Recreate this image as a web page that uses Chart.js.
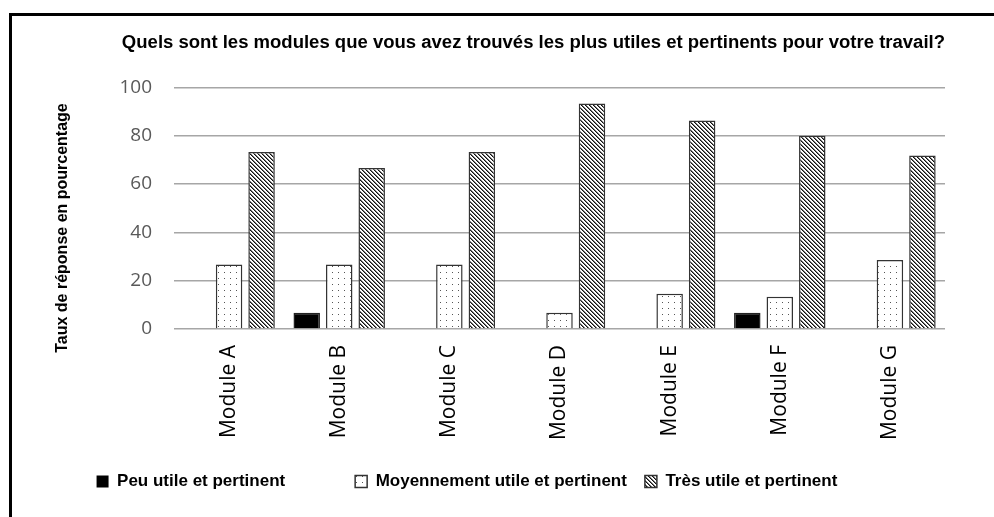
<!DOCTYPE html>
<html>
<head>
<meta charset="utf-8">
<script src="https://cdn.jsdelivr.net/npm/chart.js@4.4.1/dist/chart.umd.min.js"></script>
<style>
  html, body { margin: 0; padding: 0; background: #fff; }
  #wrap { position: relative; width: 994px; height: 517px; overflow: hidden; }
  #frame { position: absolute; left: 9px; top: 13px; width: 1000px; height: 600px;
           border-left: 3px solid #000; border-top: 3px solid #000; box-sizing: border-box; pointer-events: none; }
  canvas { position: absolute; left: 0; top: 0; }
</style>
</head>
<body>
<div id="wrap">
  <canvas id="c" width="994" height="517"></canvas>
  <div id="frame"></div>
</div>
<script>
const titleText = "Quels sont les modules que vous avez trouvés les plus utiles et pertinents pour votre travail?";
const yAxisTitle = "Taux de réponse en pourcentage";
const categories = ["Module A", "Module B", "Module C", "Module D", "Module E", "Module F", "Module G"];
const seriesNames = ["Peu utile et pertinent", "Moyennement utile et pertinent", "Très utile et pertinent"];
const peuUtile = [0, 6.7, 0, 0, 0, 6.7, 0];
const moyennementUtile = [26.7, 26.7, 26.7, 6.7, 14.6, 13.3, 28.6];
const tresUtile = [73.3, 66.7, 73.3, 93.3, 86.3, 80, 71.8];
const yTicks = [0, 20, 40, 60, 80, 100];

function dotPattern() {
  const t = document.createElement('canvas');
  t.width = 6; t.height = 6;
  const g = t.getContext('2d');
  g.fillStyle = '#fff'; g.fillRect(0, 0, 6, 6);
  g.fillStyle = '#555';
  g.fillRect(2, 2, 1, 1);
  return g.createPattern(t, 'repeat');
}
function hatchPattern() {
  const n = 4;
  const t = document.createElement('canvas');
  t.width = n; t.height = n;
  const g = t.getContext('2d');
  g.fillStyle = '#fff'; g.fillRect(0, 0, n, n);
  g.fillStyle = '#111';
  for (let i = 0; i < n; i++) g.fillRect(i, i, 1, 1);
  g.fillStyle = '#777';
  for (let i = 0; i < n; i++) g.fillRect((i + 1) % n, i, 1, 1);
  return g.createPattern(t, 'repeat');
}

const NB = "\u00a0";
const ctx = document.getElementById('c').getContext('2d');
const bw = c => (c.raw === 0 ? 0 : 1.5);
const legendLabels = [seriesNames[0] + NB.repeat(11), seriesNames[1], seriesNames[2] + NB.repeat(14)];

const yTitlePlugin = {
  id: 'yTitle',
  afterDraw(chart) {
    const g = chart.ctx;
    g.save();
    g.translate(63, 228);
    g.rotate(-Math.PI / 2);
    g.font = 'bold 16px "Liberation Sans", Arial';
    g.fillStyle = '#000';
    g.textAlign = 'center';
    g.textBaseline = 'middle';
    g.fillText(yAxisTitle, 0, 0);
    g.restore();
  }
};

new Chart(ctx, {
  type: 'bar',
  data: {
    labels: categories,
    datasets: [
      { label: legendLabels[0], data: peuUtile, backgroundColor: '#000', borderColor: '#222', borderWidth: bw },
      { label: legendLabels[1], data: moyennementUtile, backgroundColor: dotPattern(), borderColor: '#333', borderWidth: bw },
      { label: legendLabels[2], data: tresUtile, backgroundColor: hatchPattern(), borderColor: '#333', borderWidth: bw }
    ]
  },
  plugins: [yTitlePlugin],
  options: {
    responsive: false,
    animation: false,
    devicePixelRatio: 1,
    layout: { padding: { left: 55, right: 49, top: 0, bottom: 17 } },
    datasets: { bar: { categoryPercentage: 0.885, barPercentage: 0.815, borderSkipped: 'start' } },
    plugins: {
      title: {
        display: true, text: NB.repeat(13) + titleText, color: '#000',
        font: { family: 'Liberation Sans, Arial', size: 18.7, weight: 'bold' },
        padding: { top: 32, bottom: 33 }
      },
      legend: {
        position: 'bottom',
        labels: {
          color: '#000',
          font: { family: 'Liberation Sans, Arial', size: 17, weight: 'bold' },
          boxWidth: 12, boxHeight: 12, padding: 18
        }
      },
      tooltip: { enabled: false }
    },
    scales: {
      x: {
        grid: { display: false },
        border: { display: false },
        ticks: {
          color: '#000', minRotation: 90, maxRotation: 90, padding: 8,
          font: { family: 'Open Sans', size: 21 }
        },
        afterFit: s => { s.height = 126; }
      },
      y: {
        min: 0, max: 100,
        afterBuildTicks: s => { s.ticks = yTicks.map(v => ({ value: v })); },
        grid: { color: '#a6a6a6', lineWidth: 1.5, drawTicks: false },
        border: { display: false },
        ticks: {
          color: '#595959', padding: 22,
          font: { family: 'Open Sans', size: 19 }
        },
        afterFit: s => { s.width = 119; }
      }
    }
  }
});
</script>
</body>
</html>
